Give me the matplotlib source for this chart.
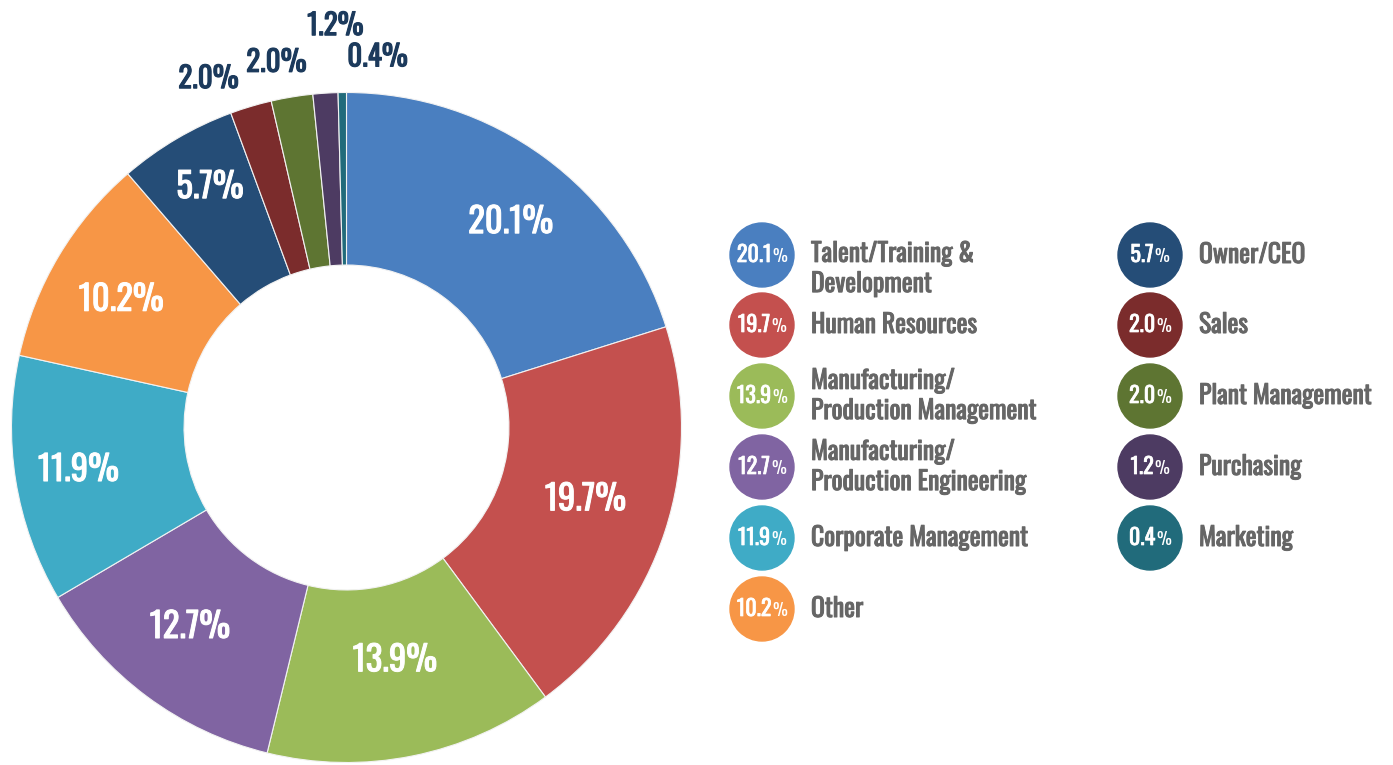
import matplotlib.pyplot as plt
import matplotlib.patheffects as pe
from matplotlib.patches import Circle
import numpy as np

labels = ["Talent/Training &\nDevelopment", "Human Resources",
          "Manufacturing/\nProduction Management",
          "Manufacturing/\nProduction Engineering",
          "Corporate Management", "Other", "Owner/CEO", "Sales",
          "Plant Management", "Purchasing", "Marketing"]
values = [20.1, 19.7, 13.9, 12.7, 11.9, 10.2, 5.7, 2.0, 2.0, 1.2, 0.4]
colors = ["#4A7FC0", "#C4504E", "#9BBB59", "#8064A2", "#3FABC6", "#F79646",
          "#254D77", "#7B2C2C", "#5E7532", "#4D3B62", "#216B7B"]

FONT = ["Oswald", "DejaVu Sans"]
W, H = 1393, 765


def heavy(color, lw):
    # fake a heavier weight of the font
    return [pe.withStroke(linewidth=lw, foreground=color)]


fig = plt.figure(figsize=(W / 100, H / 100), dpi=100)
ax = fig.add_axes([0, 0, 1, 1])
ax.set_xlim(0, W)
ax.set_ylim(0, H)

cx, cy, R = 346.5, H - 427.5, 335
wedges, _ = ax.pie(values, colors=colors, startangle=90, counterclock=False,
                   center=(cx, cy), radius=R,
                   wedgeprops=dict(width=R * 0.515, edgecolor="#f2f2f2", linewidth=0.8))

# label placement: inside slices (radius factor, angle shift), tiny slices outside
label_pos = [(0.785, -2.4), (0.745, 1.3), (0.71, 0.4), (0.757, -1.5), (0.81, 0.0),
             (0.773, 1.3), (0.825, -0.9), (1.12, 5), (1.11, 1.5), (1.2, -2), (1.11, -5.5)]
for i, w in enumerate(wedges):
    mid = (w.theta1 + w.theta2) / 2
    rf, da = label_pos[i]
    a = np.deg2rad(mid + da)
    txt = f"{values[i]:.1f}%"
    if rf > 1:
        ax.text(cx + rf * R * np.cos(a), cy + rf * R * np.sin(a), txt,
                ha="center", va="center", fontsize=21, color="#1C3A5C",
                family=FONT, path_effects=heavy("#1C3A5C", 0.8))
    else:
        ax.text(cx + rf * R * np.cos(a), cy + rf * R * np.sin(a), txt,
                ha="center", va="center", fontsize=25, color="white",
                family=FONT, path_effects=heavy("white", 0.7))

# legend
renderer = fig.canvas.get_renderer()
col_x = [762, 1150]
row_y = [255, 325, 396, 467, 538, 609]
for i, lab in enumerate(labels):
    col = 0 if i < 6 else 1
    row = i if i < 6 else i - 6
    x = col_x[col]
    y = H - row_y[row]
    ax.add_patch(Circle((x, y), 32, color=colors[i], zorder=3))
    num = ax.text(x, y, f"{values[i]:.1f}", ha="left", va="center", fontsize=16,
                  color="white", family=FONT, zorder=4,
                  path_effects=heavy("white", 0.5))
    pct = ax.text(x, y - 1.5, "%", ha="left", va="center", fontsize=12,
                  color="white", family=FONT, zorder=4)
    wn = num.get_window_extent(renderer).width
    wp = pct.get_window_extent(renderer).width
    x0 = x - (wn + wp + 1) / 2
    num.set_x(x0)
    pct.set_x(x0 + wn + 1)
    dy = -14 if i == 0 else 0
    ax.text(x + 49, y + dy, lab, ha="left", va="center", fontsize=18.5,
            color="#666666", family=FONT, linespacing=1.2,
            path_effects=heavy("#666666", 0.7))

ax.set_xlim(0, W)
ax.set_ylim(0, H)
ax.set_aspect("equal")
ax.axis("off")

fig.savefig("out.png", dpi=100)
